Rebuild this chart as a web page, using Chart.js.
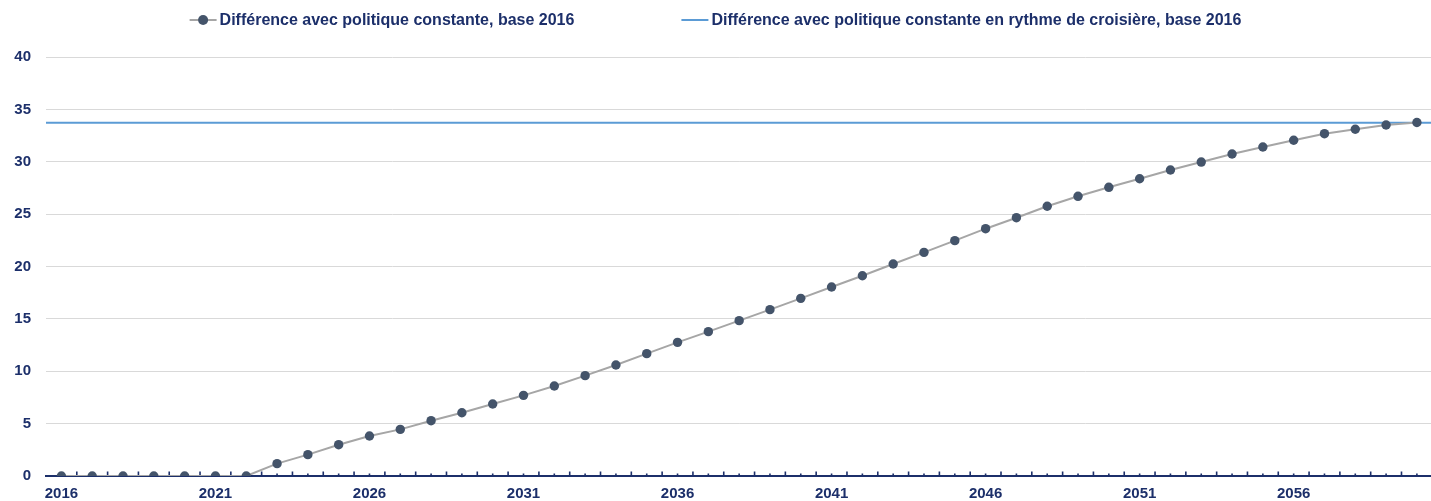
<!DOCTYPE html>
<html lang="fr">
<head>
<meta charset="utf-8">
<title>Différence avec politique constante, base 2016</title>
<script src="https://cdn.jsdelivr.net/npm/chart.js@4.4.1/dist/chart.umd.min.js"></script>
<style>
  html, body { margin: 0; padding: 0; background: #fff; overflow: hidden; }
  #wrap { position: relative; width: 1437px; height: 501px; }
</style>
</head>
<body>
<div id="wrap"><canvas id="diffChart"></canvas></div>
<script>
// categories (années)
var annees = ['2016', '2017', '2018', '2019', '2020', '2021', '2022', '2023', '2024', '2025',
              '2026', '2027', '2028', '2029', '2030', '2031', '2032', '2033', '2034', '2035',
              '2036', '2037', '2038', '2039', '2040', '2041', '2042', '2043', '2044', '2045',
              '2046', '2047', '2048', '2049', '2050', '2051', '2052', '2053', '2054', '2055',
              '2056', '2057', '2058', '2059', '2060']

// Différence avec politique constante, base 2016
var diffPolitique = [0, 0, 0, 0, 0, 0, 0, 1.18, 2.04, 2.99,
                     3.82, 4.45, 5.28, 6.04, 6.87, 7.70, 8.59, 9.58, 10.6, 11.68,
                     12.76, 13.78, 14.83, 15.88, 16.96, 18.04, 19.12, 20.24, 21.35, 22.47,
                     23.61, 24.66, 25.75, 26.70, 27.56, 28.38, 29.21, 29.97, 30.74, 31.41,
                     32.05, 32.68, 33.10, 33.51, 33.75]

// ... en rythme de croisière : niveau constant sur toute la période
var croisiereAnnees = ['2016', '2060']
var diffCroisiere = [33.73, 33.73]

// axe vertical
var yMin = 0
var yMax = 40
var yPas = 5

var navy = '#1c2f6a'
var lineGray = '#a6a6a6'
var pointColor = '#44546a'
var blue = '#5b9bd5'

Chart.defaults.font.family = '"Liberation Sans", Arial, sans-serif'
Chart.defaults.font.weight = 'bold'
Chart.defaults.color = navy

//--------------------------------
//- petites graduations (axe X) -
//--------------------------------
var graduations = {
  id: 'graduations',
  beforeDatasetsDraw: function (chart) {
    var x = chart.scales.x
    var ctx = chart.ctx
    var y0 = chart.chartArea.bottom
    ctx.save()
    ctx.strokeStyle = navy
    ctx.lineWidth = 1.6
    ctx.beginPath()
    for (var i = 0; i < annees.length; i++) {
      var cx = x.getPixelForTick(i)
      ctx.moveTo(cx, y0)
      ctx.lineTo(cx, y0 - 2.5)
      if (i < annees.length - 1) {
        var bx = (cx + x.getPixelForTick(i + 1)) / 2
        ctx.moveTo(bx, y0)
        ctx.lineTo(bx, y0 - 4.5)
      }
    }
    ctx.stroke()
    ctx.restore()
  }
}

//-------------------
//- légende en haut -
//-------------------
var legende = {
  id: 'legende',
  afterDraw: function (chart) {
    var ctx = chart.ctx
    var ds = chart.data.datasets
    var markW = 27, markGap = 3, itemGap = 107
    var yc = 20
    ctx.save()
    ctx.font = 'bold 16px "Liberation Sans", Arial, sans-serif'
    ctx.textBaseline = 'middle'
    var w0 = ctx.measureText(ds[0].label).width
    var w1 = ctx.measureText(ds[1].label).width
    var total = markW + markGap + w0 + itemGap + markW + markGap + w1
    var x = 715.5 - total / 2

    // série 1 : trait + point
    ctx.strokeStyle = lineGray
    ctx.lineWidth = 2
    ctx.beginPath(); ctx.moveTo(x, yc); ctx.lineTo(x + markW, yc); ctx.stroke()
    ctx.fillStyle = pointColor
    ctx.beginPath(); ctx.arc(x + markW / 2, yc, 5, 0, Math.PI * 2); ctx.fill()
    ctx.fillStyle = navy
    ctx.fillText(ds[0].label, x + markW + markGap, yc + 1)
    x += markW + markGap + w0 + itemGap

    // série 2 : trait bleu
    ctx.strokeStyle = blue
    ctx.beginPath(); ctx.moveTo(x, yc); ctx.lineTo(x + markW, yc); ctx.stroke()
    ctx.fillStyle = navy
    ctx.fillText(ds[1].label, x + markW + markGap, yc + 1)
    ctx.restore()
  }
}

var ctx = document.getElementById('diffChart').getContext('2d')

var diffChart = new Chart(ctx, {
  type: 'line',
  data: {
    labels: annees,
    datasets: [
      {
        label               : 'Différence avec politique constante, base 2016',
        data                : diffPolitique,
        borderColor         : lineGray,
        borderWidth         : 2,
        backgroundColor     : pointColor,
        pointBackgroundColor: pointColor,
        pointBorderColor    : pointColor,
        pointBorderWidth    : 0,
        pointRadius         : 4.7,
        fill                : false,
        tension             : 0,
        order               : 0
      },
      {
        label               : 'Différence avec politique constante en rythme de croisière, base 2016',
        data                : [{ x: croisiereAnnees[0], y: diffCroisiere[0] },
                               { x: croisiereAnnees[1], y: diffCroisiere[1] }],
        xAxisID             : 'x2',
        borderColor         : blue,
        backgroundColor     : blue,
        borderWidth         : 2,
        pointRadius         : 0,
        fill                : false,
        order               : 1
      }
    ]
  },
  options: {
    responsive: true,
    maintainAspectRatio: false,
    animation: false,
    layout: { padding: { top: 57, left: 0, right: 0, bottom: 0 } },
    plugins: {
      legend: { display: false },
      tooltip: { enabled: false }
    },
    scales: {
      x: {
        type: 'category',
        offset: true,
        afterFit: function (scale) { scale.height = 25 },
        grid: { display: false, drawTicks: false, tickLength: 0 },
        border: { display: true, color: navy, width: 2 },
        ticks: {
          autoSkip: false,
          maxRotation: 0,
          padding: 10,
          color: navy,
          font: { size: 15, weight: 'bold', lineHeight: 1 },
          callback: function (val, i) { return i % 5 === 0 ? annees[i] : '' }
        }
      },
      x2: {
        type: 'category',
        labels: annees,
        offset: false,
        display: false
      },
      y: {
        min: yMin,
        max: yMax,
        afterFit: function (scale) { scale.width = 46 },
        grid: { color: '#d9d9d9', lineWidth: 1, drawTicks: false, tickLength: 0 },
        border: { display: false },
        ticks: {
          stepSize: yPas,
          padding: 15,
          color: navy,
          font: { size: 15, weight: 'bold' }
        }
      }
    }
  },
  plugins: [graduations, legende]
})
</script>
</body>
</html>
